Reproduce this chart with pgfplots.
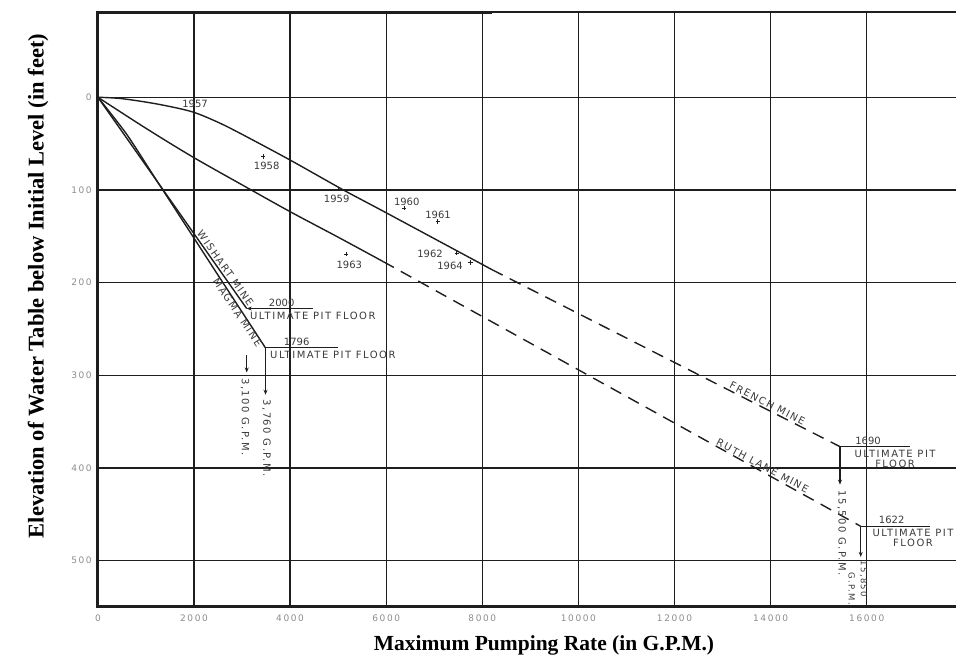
\documentclass[border=0pt]{standalone}
\usepackage{fontspec}
\setmainfont{Liberation Serif}
\newfontfamily\lett{DejaVu Sans}
\newfontfamily\lettw[LetterSpace=15]{DejaVu Sans}
\newfontfamily\lettt[LetterSpace=18]{DejaVu Sans}
\usepackage{graphicx}
\usepackage{pgfplots}
\pgfplotsset{compat=1.18}
\usetikzlibrary{arrows.meta}
\definecolor{ink}{HTML}{1E1E1E}
\definecolor{txt}{HTML}{3A3A3A}
\definecolor{tickc}{HTML}{8C8C8C}
\tikzset{
  lbl/.style={font=\lett\fontsize{10}{11}\selectfont, text=txt, inner sep=0pt},
  lblw/.style={font=\lettw\fontsize{10}{11}\selectfont, text=txt, inner sep=0pt},
  lbls/.style={font=\lettw\fontsize{8.5}{9}\selectfont, text=txt, inner sep=0pt},
  cur/.style={ink, line width=1.4pt},
  arr/.style={ink, line width=1.1pt},
}
\begin{document}
\begin{tikzpicture}[x=1pt,y=1pt]
\useasboundingbox (0,0) rectangle (956,-658);
\begin{axis}[at={(97.9pt,-12pt)}, anchor=north west, scale only axis,
  width=858.1pt, height=594pt,
  xmin=0, xmax=17858, ymin=-92, ymax=549, y dir=reverse,
  scaled ticks=false,
  axis line style={draw=none}, tick style={draw=none},
  xtick={0,2000,4000,6000,8000,10000,12000,14000,16000},
  xticklabels={0,2000,4000,6000,8000,10000,12000,14000,16000},
  ytick={0,100,200,300,400,500},
  yticklabels={0,100,200,300,400,500},
  grid=major, major grid style={ink, line width=1.4pt},
  tick label style={font=\lettt\fontsize{9}{10}\selectfont, text=tickc, inner sep=0pt},
  xticklabel style={yshift=-9pt},
  yticklabel style={xshift=-6pt},
  clip=false,
]
% frame
\draw[ink, line width=1.4pt] (axis cs:0,-92) -- (axis cs:17858,-92);
\draw[ink, line width=3pt] (axis cs:8200,-92) -- (axis cs:0,-92) -- (axis cs:0,549) -- (axis cs:17858,549);

% French Mine
\addplot[cur, smooth, tension=0.5] coordinates {(0,0)(500,1.5)(1224,7.2)(1950,15.5)(2500,27)(3000,40)(3998,67.7)(5107,100)(5940,123)(8200,186)};
\addplot[cur, dash pattern=on 12pt off 8pt] coordinates {(8200,186)(15443,377)};
% Ruth Lane Mine
\addplot[cur, smooth, tension=0.5] coordinates {(0,0)(1000,33.5)(1960,64)(3000,94.5)(3998,123.4)(5000,151)(5940,177.4)};
\addplot[cur, dash pattern=on 12pt off 8pt] coordinates {(5940,177.4)(15875,463)};
% Wishart Mine
\addplot[cur] coordinates {(0,0)(3097,228)};
% Magma Mine
\addplot[cur, smooth, tension=0.4] coordinates {(0,0)(600,40)(1255,92.4)(2400,184)(3488,270.5)};

% ultimate pit floors
\addplot[arr, arrows={Stealth[length=5pt,width=4pt]-}] coordinates {(3097,228)(4483,228)};
\addplot[arr, arrows={-Stealth[length=5pt,width=4pt]}] coordinates {(3097,278)(3097,297)};
\addplot[arr] coordinates {(3488,270.5)(4997,270.5)};
\addplot[arr, arrows={-Stealth[length=5pt,width=4pt]}] coordinates {(3488,270.5)(3488,321)};
\addplot[arr] coordinates {(15443,377)(16900,377)};
\addplot[arr, arrows={-Stealth[length=5pt,width=4pt]}] coordinates {(15443,377)(15443,418)};
\addplot[arr] coordinates {(15875,463)(17317,463)};
\addplot[arr, arrows={-Stealth[length=5pt,width=4pt]}] coordinates {(15875,463)(15875,496)};

% yearly observations
\addplot[only marks, mark=+, mark size=2.2pt, ink, line width=0.8pt] coordinates {(3442,64.1)(5003,98.9)(6370,119.8)(7072,134.2)(7467,168.3)(7758,178.5)(5163,169.1)};

\node[lbl] at (axis cs:2021,7.2) {1957};
\node[lbl] at (axis cs:3513,74.1) {1958};
\node[lbl] at (axis cs:4970,109.7) {1959};
\node[lbl] at (axis cs:6427,112.6) {1960};
\node[lbl] at (axis cs:7078,127) {1961};
\node[lbl] at (axis cs:6912,169.1) {1962};
\node[lbl] at (axis cs:7328,182) {1964};
\node[lbl] at (axis cs:5232,181) {1963};

% floor labels
\node[lbl, anchor=south, yshift=2pt] at (axis cs:3825,228) {2000};
\node[lblw, anchor=north west, yshift=-3pt] at (axis cs:3165,228) {ULTIMATE PIT FLOOR};
\node[lbl, anchor=south, yshift=2pt] at (axis cs:4137,270.5) {1796};
\node[lblw, anchor=north west, yshift=-3pt] at (axis cs:3582,270.5) {ULTIMATE PIT FLOOR};
\node[lbl, anchor=south, yshift=2pt] at (axis cs:16027,377) {1690};
\node[lblw, anchor=north, align=center, yshift=-3pt] at (axis cs:16590,377) {ULTIMATE PIT\\[-1pt]FLOOR};
\node[lbl, anchor=south, yshift=2pt] at (axis cs:16520,463) {1622};
\node[lblw, anchor=north, align=center, yshift=-3pt] at (axis cs:16964,463) {ULTIMATE PIT\\[-1pt]FLOOR};

% pumping rates
\node[lblw, rotate=-90, anchor=west] at (axis cs:3061,303) {3,100 G.P.M.};
\node[lblw, rotate=-90, anchor=west] at (axis cs:3509,326) {3,760 G.P.M.};
\node[lblw, rotate=-90, anchor=west] at (axis cs:15480,424) {15,500 G.P.M.};
\node[lbls, rotate=-90, anchor=west] at (axis cs:15935,500) {15,850};
\node[lbls, rotate=-90, anchor=west] at (axis cs:15690,513) {G.P.M.};

% mine names
\node[lblw, rotate=-54.8, anchor=south, inner sep=1.5pt] at (axis cs:2560,188) {WISHART MINE};
\node[lblw, rotate=-56, anchor=north, inner sep=1.5pt] at (axis cs:3000,229) {MAGMA MINE};
\node[lblw, rotate=-27, anchor=south, inner sep=1.5pt] at (axis cs:13882,335.7) {FRENCH MINE};
\node[lblw, rotate=-28, anchor=south, inner sep=1.5pt] at (axis cs:13780,402.9) {RUTH LANE MINE};
\end{axis}
\node[font=\bfseries\fontsize{21.5}{24}\selectfont, anchor=base] at (544,-650) {Maximum Pumping Rate (in G.P.M.)};
\node[font=\bfseries\fontsize{22.5}{25}\selectfont, rotate=90] at (38,-286) {Elevation of Water Table below Initial Level (in feet)};
\end{tikzpicture}
\end{document}
